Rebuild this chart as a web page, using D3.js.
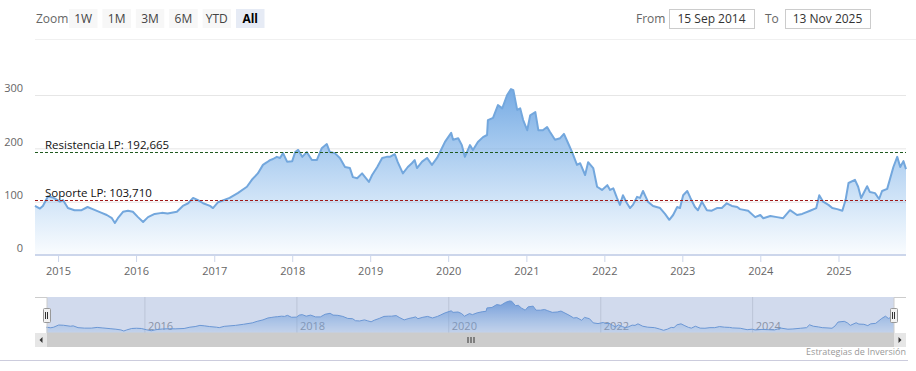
<!DOCTYPE html>
<html>
<head>
<meta charset="utf-8">
<script src="https://cdn.jsdelivr.net/npm/d3@7"></script>
<style>
body { margin: 0; background: #fff; }
svg { display: block; font-family: "Open Sans", sans-serif; }
</style>
</head>
<body>
<svg width="916" height="371"></svg>
<script>
// weekly-ish closes
var dates = [
    "2014-09-15", "2014-10-08", "2014-10-22", "2014-11-15", "2014-12-08",
    "2015-01-10", "2015-01-24", "2015-02-16", "2015-03-19", "2015-04-21",
    "2015-05-19", "2015-06-12", "2015-07-24", "2015-08-17", "2015-09-10",
    "2015-09-24", "2015-10-08", "2015-11-01", "2015-11-24", "2015-12-17",
    "2016-01-10", "2016-02-03", "2016-02-26", "2016-03-28", "2016-05-01",
    "2016-05-28", "2016-07-10", "2016-08-07", "2016-09-01", "2016-09-24",
    "2016-10-17", "2016-11-10", "2016-12-12", "2016-12-26", "2017-01-19",
    "2017-03-14", "2017-04-21", "2017-06-03", "2017-06-26", "2017-07-24",
    "2017-08-17", "2017-09-05", "2017-09-19", "2017-10-03", "2017-10-21",
    "2017-11-05", "2017-11-19", "2017-12-08", "2018-01-01", "2018-01-15",
    "2018-01-29", "2018-02-17", "2018-03-10", "2018-04-03", "2018-04-26",
    "2018-05-19", "2018-06-12", "2018-06-26", "2018-07-19", "2018-08-12",
    "2018-09-05", "2018-09-28", "2018-10-12", "2018-11-01", "2018-11-24",
    "2018-12-08", "2018-12-26", "2019-01-10", "2019-02-03", "2019-02-26",
    "2019-03-19", "2019-04-03", "2019-04-26", "2019-05-10", "2019-06-03",
    "2019-06-26", "2019-07-15", "2019-07-28", "2019-08-08", "2019-09-01",
    "2019-09-24", "2019-10-17", "2019-11-10", "2019-11-24", "2019-12-17",
    "2020-01-15", "2020-01-24", "2020-02-17", "2020-03-05", "2020-03-19",
    "2020-04-12", "2020-04-26", "2020-05-19", "2020-06-12", "2020-07-01",
    "2020-07-05", "2020-07-29", "2020-08-21", "2020-09-10", "2020-10-03",
    "2020-10-21", "2020-11-01", "2020-11-19", "2020-12-03", "2020-12-17",
    "2021-01-05", "2021-01-19", "2021-02-12", "2021-02-26", "2021-03-19",
    "2021-04-08", "2021-04-21", "2021-05-15", "2021-06-08", "2021-06-26",
    "2021-07-15", "2021-08-03", "2021-08-26", "2021-09-10", "2021-10-03",
    "2021-10-17", "2021-11-10", "2021-11-28", "2021-12-21", "2022-01-15",
    "2022-01-28", "2022-02-12", "2022-03-01", "2022-03-15", "2022-03-29",
    "2022-04-17", "2022-05-01", "2022-05-15", "2022-06-03", "2022-06-17",
    "2022-07-01", "2022-07-24", "2022-08-17", "2022-09-19", "2022-10-12",
    "2022-11-01", "2022-11-19", "2022-12-08", "2022-12-21", "2023-01-05",
    "2023-01-24", "2023-02-08", "2023-03-01", "2023-03-15", "2023-04-03",
    "2023-04-26", "2023-05-19", "2023-06-12", "2023-07-05", "2023-07-28",
    "2023-08-21", "2023-09-15", "2023-09-28", "2023-11-05", "2023-12-08",
    "2024-01-01", "2024-01-15", "2024-02-17", "2024-03-19", "2024-04-17",
    "2024-05-19", "2024-06-21", "2024-07-15", "2024-08-21", "2024-09-19",
    "2024-10-03", "2024-10-21", "2024-11-15", "2024-12-03", "2024-12-26",
    "2025-01-19", "2025-02-03", "2025-02-17", "2025-03-19", "2025-04-03",
    "2025-04-17", "2025-05-15", "2025-05-28", "2025-06-21", "2025-07-10",
    "2025-07-24", "2025-08-17", "2025-09-15", "2025-10-03", "2025-10-17",
    "2025-11-01", "2025-11-13"
];
var prices = [
    92, 87, 92, 110, 108,
    100, 103, 88, 84, 84,
    90, 86, 79, 75, 69,
    60, 69, 81, 83, 81,
    71, 62, 71, 77, 79,
    78, 81, 92, 97, 107,
    103, 97, 92, 88, 99,
    107, 116, 128, 141, 153,
    169, 174, 178, 180, 184,
    182, 191, 175, 176, 193,
    197, 184, 193, 178, 178,
    200, 208, 193, 191, 182,
    165, 163, 146, 144, 153,
    146, 137, 150, 165, 182,
    184, 184, 189, 174, 153,
    165, 172, 178, 163, 175,
    182, 169, 182, 193, 212,
    229, 216, 219, 206, 184,
    206, 197, 212, 221, 225,
    253, 257, 281, 275, 300,
    311, 309, 272, 275, 253,
    234, 262, 268, 234, 234,
    240, 231, 216, 219, 227,
    210, 193, 169, 172, 150,
    174, 163, 128, 122, 131,
    122, 125, 107, 94, 112,
    97, 88, 94, 109, 107,
    120, 100, 92, 88, 77,
    66, 75, 90, 88, 112,
    120, 107, 90, 84, 100,
    84, 83, 88, 88, 97,
    92, 90, 86, 83, 71,
    75, 69, 73, 71, 69,
    84, 75, 77, 83, 88,
    112, 100, 94, 88, 86,
    83, 103, 135, 141, 128,
    107, 129, 118, 116, 105,
    120, 124, 165, 184, 165,
    176, 161
];
var resistance = 192.665;
var support = 103.71;
var levelLabels = ["Resistencia LP: 192,665", "Soporte LP: 103,710"];
var yTicks = [0, 100, 200, 300];
var zoomButtons = ["1W", "1M", "3M", "6M", "YTD", "All"];
var rangeFrom = "15 Sep 2014";
var rangeTo = "13 Nov 2025";
var creditText = "Estrategias de Inversión";

var parse = d3.utcParse("%Y-%m-%d");
var series = dates.map(function (d, i) {
    return {date: parse(d), value: prices[i]};
});

var svg = d3.select("svg");
var plot = {left: 35, right: 906, top: 95, bottom: 255};
var nav = {left: 47, right: 894, top: 297, bottom: 333};

var defs = svg.append("defs");
var grad = defs.append("linearGradient")
    .attr("id", "areaFill")
    .attr("x1", 0).attr("y1", 0).attr("x2", 0).attr("y2", 1);
grad.append("stop").attr("offset", "0%")
    .attr("stop-color", "#6fa6e2").attr("stop-opacity", 0.95);
grad.append("stop").attr("offset", "100%")
    .attr("stop-color", "#7cb5ec").attr("stop-opacity", 0.04);

var navGrad = defs.append("linearGradient")
    .attr("id", "navFill")
    .attr("x1", 0).attr("y1", 0).attr("x2", 0).attr("y2", 1);
navGrad.append("stop").attr("offset", "0%")
    .attr("stop-color", "#5b93dc").attr("stop-opacity", 0.8);
navGrad.append("stop").attr("offset", "100%")
    .attr("stop-color", "#7cb5ec").attr("stop-opacity", 0.15);

// range selector
var selector = svg.append("g").attr("class", "range-selector");
selector.append("text")
    .attr("x", 36).attr("y", 23)
    .attr("fill", "#666").style("font-size", "12px")
    .text("Zoom");
zoomButtons.forEach(function (label, i) {
    var bx = 69 + i * 33.4;
    var selected = label === "All";
    selector.append("rect")
        .attr("x", bx).attr("y", 9)
        .attr("width", 28.5).attr("height", 19)
        .attr("fill", selected ? "#e6ebf5" : "#f7f7f7");
    selector.append("text")
        .attr("x", bx + 14.2).attr("y", 23)
        .attr("text-anchor", "middle")
        .attr("fill", selected ? "#000" : "#444")
        .style("font-size", "12px")
        .style("font-weight", selected ? "bold" : "normal")
        .text(label);
});
[[636, 669, "From", rangeFrom], [765, 785, "To", rangeTo]]
    .forEach(function (r) {
        selector.append("text")
            .attr("x", r[0]).attr("y", 23)
            .attr("fill", "#666").style("font-size", "12px")
            .text(r[2]);
        selector.append("rect")
            .attr("x", r[1] + 0.5).attr("y", 9.5)
            .attr("width", 85).attr("height", 19)
            .attr("fill", "#fff").attr("stroke", "#ccc");
        selector.append("text")
            .attr("x", r[1] + 42.5).attr("y", 23)
            .attr("text-anchor", "middle")
            .attr("fill", "#333").style("font-size", "12px")
            .text(r[3]);
    });
svg.append("line")
    .attr("x1", plot.left).attr("x2", 916)
    .attr("y1", 39.5).attr("y2", 39.5)
    .attr("stroke", "#f0f0f0");

// main chart
var x = d3.scaleUtc()
    .domain([parse("2014-09-15"), parse("2025-11-13")])
    .range([plot.left, plot.right]);
var y = d3.scaleLinear()
    .domain([0, 300])
    .range([plot.bottom, plot.top]);

svg.append("g")
    .attr("class", "grid")
    .attr("transform", "translate(" + plot.left + ",0)")
    .call(d3.axisRight(y).tickValues(yTicks.slice(1))
        .tickSize(plot.right - plot.left).tickFormat(""))
    .call(function (g) {
        g.select(".domain").remove();
        g.selectAll("line").attr("stroke", "#e6e6e6");
    });

svg.append("g")
    .attr("class", "y axis")
    .attr("transform", "translate(23,0)")
    .call(d3.axisLeft(y).tickValues(yTicks).tickSize(0).tickPadding(0))
    .call(function (g) {
        g.select(".domain").remove();
        g.selectAll("text")
            .attr("dy", "-0.3em")
            .attr("fill", "#666")
            .style("font-size", "11px")
            .style("font-family", "Open Sans, sans-serif");
    });

var area = d3.area()
    .x(function (d) { return x(d.date); })
    .y0(y(0))
    .y1(function (d) { return y(d.value); });
var line = d3.line()
    .x(function (d) { return x(d.date); })
    .y(function (d) { return y(d.value); });

svg.append("path")
    .datum(series)
    .attr("d", area)
    .attr("fill", "url(#areaFill)");
svg.append("path")
    .datum(series)
    .attr("d", line)
    .attr("fill", "none")
    .attr("stroke", "#73a7dd")
    .attr("stroke-width", 2)
    .attr("stroke-linejoin", "round");

[[resistance, "#1f5a1f", levelLabels[0]], [support, "#a01818", levelLabels[1]]]
    .forEach(function (lv) {
        var ly = Math.round(y(lv[0])) + 0.5;
        svg.append("line")
            .attr("x1", plot.left).attr("x2", plot.right)
            .attr("y1", ly).attr("y2", ly)
            .attr("stroke", lv[1]).attr("stroke-width", 1)
            .attr("stroke-dasharray", "3,2");
        svg.append("text")
            .attr("x", 45).attr("y", ly - 4)
            .attr("fill", "#111").style("font-size", "11.5px")
            .text(lv[2]);
    });

svg.append("g")
    .attr("class", "x axis")
    .attr("transform", "translate(0," + plot.bottom + ")")
    .call(d3.axisBottom(x).ticks(d3.utcYear.every(1))
        .tickFormat(d3.utcFormat("%Y")).tickSize(7).tickPadding(5))
    .call(function (g) {
        g.select(".domain").remove();
        g.selectAll("line").attr("stroke", "#ccd6eb");
        g.selectAll("text")
            .attr("fill", "#666")
            .style("font-size", "11px")
            .style("font-family", "Open Sans, sans-serif");
    });
svg.append("line")
    .attr("x1", plot.left).attr("x2", plot.right)
    .attr("y1", plot.bottom).attr("y2", plot.bottom)
    .attr("stroke", "#ccd6eb").attr("stroke-width", 2);

// navigator
var nx = d3.scaleUtc()
    .domain(x.domain())
    .range([nav.left - 1, nav.right]);
var ny = d3.scaleLinear()
    .domain(d3.extent(prices))
    .range([nav.bottom - 2, nav.top + 4]);

var navG = svg.append("g").attr("class", "navigator");
navG.append("g")
    .attr("transform", "translate(0," + nav.top + ")")
    .call(d3.axisBottom(nx).ticks(d3.utcYear.every(2))
        .tickFormat(d3.utcFormat("%Y"))
        .tickSize(nav.bottom - nav.top).tickPadding(0))
    .call(function (g) {
        g.select(".domain").remove();
        g.selectAll("line").attr("stroke", "#e0e0e0");
        g.selectAll("text")
            .attr("text-anchor", "start")
            .attr("x", 3).attr("y", 33).attr("dy", 0)
            .attr("fill", "#999")
            .style("font-size", "11px")
            .style("font-family", "Open Sans, sans-serif");
    });
navG.append("path")
    .datum(series)
    .attr("d", d3.area()
        .x(function (d) { return nx(d.date); })
        .y0(nav.bottom)
        .y1(function (d) { return ny(d.value); }))
    .attr("fill", "url(#navFill)");
navG.append("path")
    .datum(series)
    .attr("d", d3.line()
        .x(function (d) { return nx(d.date); })
        .y(function (d) { return ny(d.value); }))
    .attr("fill", "none")
    .attr("stroke", "#6d9fdc")
    .attr("stroke-width", 1);
navG.append("rect")
    .attr("x", nav.left).attr("y", nav.top)
    .attr("width", nav.right - nav.left)
    .attr("height", nav.bottom - nav.top)
    .attr("fill", "rgba(102,133,194,0.3)");
navG.append("path")
    .attr("d", "M" + plot.left + "," + (nav.top + 0.5) +
            "H" + nav.left + "V" + nav.bottom +
            "H" + nav.right + "V" + (nav.top + 0.5) + "H" + plot.right)
    .attr("fill", "none").attr("stroke", "#cccccc");

[nav.left, nav.right].forEach(function (hx) {
    var hy = (nav.top + nav.bottom) / 2 - 7;
    navG.append("rect")
        .attr("x", hx - 3.5).attr("y", hy + 0.5)
        .attr("width", 7).attr("height", 14)
        .attr("rx", 1)
        .attr("fill", "#f2f2f2").attr("stroke", "#999");
    [-1, 1].forEach(function (o) {
        navG.append("line")
            .attr("x1", hx + o - 0.5).attr("x2", hx + o - 0.5)
            .attr("y1", hy + 4).attr("y2", hy + 11)
            .attr("stroke", "#333");
    });
});

// scrollbar
var sb = svg.append("g").attr("class", "scrollbar");
sb.append("rect")
    .attr("x", plot.left).attr("y", nav.bottom)
    .attr("width", plot.right - plot.left).attr("height", 14)
    .attr("fill", "#f2f2f2");
sb.append("rect")
    .attr("x", nav.left).attr("y", nav.bottom)
    .attr("width", nav.right - nav.left).attr("height", 14)
    .attr("fill", "#cccccc");
[[plot.left, -1], [nav.right, 1]].forEach(function (b) {
    var cx = b[0] + 6, cy = nav.bottom + 7;
    sb.append("rect")
        .attr("x", b[0]).attr("y", nav.bottom)
        .attr("width", 12).attr("height", 14)
        .attr("fill", "#e6e6e6");
    sb.append("path")
        .attr("d", "M" + (cx - 1.5 * b[1]) + "," + (cy - 3) +
                "L" + (cx - 1.5 * b[1]) + "," + (cy + 3) +
                "L" + (cx + 1.5 * b[1]) + "," + cy + "Z")
        .attr("fill", "#333");
});
var gripX = (nav.left + nav.right) / 2;
[-3, 0, 3].forEach(function (o) {
    sb.append("line")
        .attr("x1", gripX + o + 0.5).attr("x2", gripX + o + 0.5)
        .attr("y1", nav.bottom + 4).attr("y2", nav.bottom + 10)
        .attr("stroke", "#333");
});

svg.append("line")
    .attr("x1", 0).attr("x2", 908)
    .attr("y1", 360.5).attr("y2", 360.5)
    .attr("stroke", "#ccd");
svg.append("text")
    .attr("x", 906).attr("y", 355)
    .attr("text-anchor", "end")
    .attr("fill", "#999").style("font-size", "9px")
    .text(creditText);
</script>
</body>
</html>
